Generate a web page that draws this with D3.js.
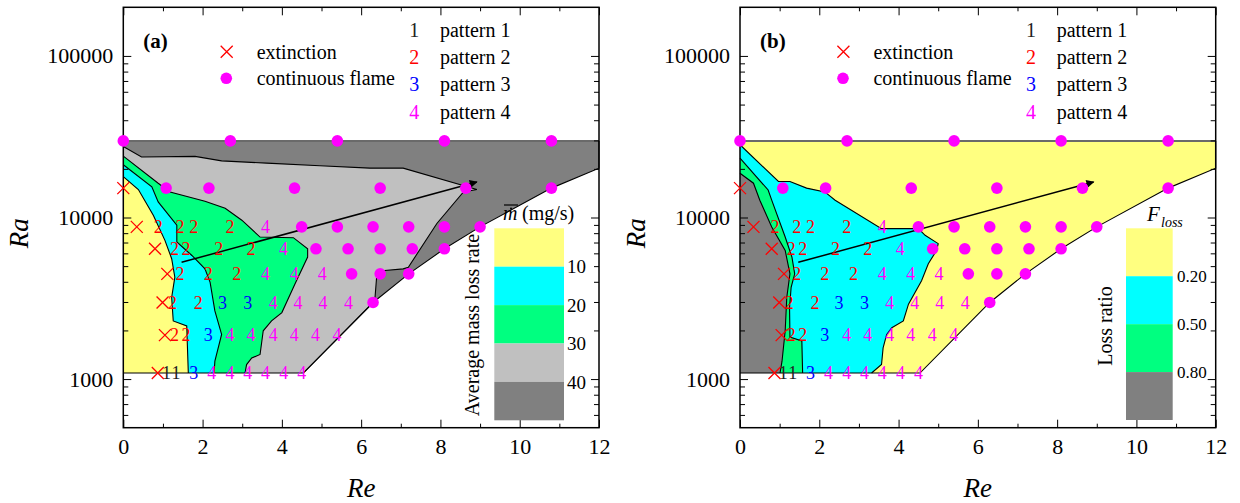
<!DOCTYPE html>
<html>
<head>
<meta charset="utf-8">
<script src="https://cdn.jsdelivr.net/npm/d3@7"></script>
<style>
  body { margin: 0; background: #fff; }
  text { font-family: "Liberation Serif", "Times New Roman", serif; }
</style>
</head>
<body>
<svg id="chart" width="1240" height="503"></svg>
<script>
// ---- data: points are [Re, Ra] ----
const extinction = [[0, 15200], [0.34, 8750], [0.80, 6400], [1.11, 4480], [0.99, 2980], [1.05, 1870], [0.87, 1090]];

const flame = [
  [0, 29800], [2.7, 29800], [5.4, 29800], [8.1, 29800], [10.8, 29800],
  [1.08, 15200], [2.16, 15200], [4.32, 15200], [6.48, 15200], [8.64, 15200], [10.8, 15200],
  [4.5, 8750], [5.4, 8750], [6.3, 8750], [7.2, 8750], [8.1, 8750], [9.0, 8750],
  [4.86, 6400], [5.67, 6400], [6.48, 6400], [7.29, 6400], [8.1, 6400],
  [5.76, 4480], [6.48, 4480], [7.2, 4480],
  [6.3, 2980]
];

// [Re, Ra, pattern]
const patterns = [
  [0.88, 8750, 2], [1.43, 8750, 2], [1.78, 8750, 2], [2.69, 8750, 2], [3.59, 8750, 4],
  [1.29, 6400, 2], [1.58, 6400, 2], [2.41, 6400, 2], [3.22, 6400, 2], [4.04, 6400, 4],
  [1.43, 4480, 2], [2.14, 4480, 2], [2.86, 4480, 2], [3.59, 4480, 4], [4.31, 4480, 4], [5.02, 4480, 4],
  [1.24, 2980, 2], [1.89, 2980, 2], [2.5, 2980, 3], [3.14, 2980, 3], [3.78, 2980, 4], [4.41, 2980, 4], [5.04, 2980, 4], [5.68, 2980, 4],
  [1.29, 1870, 2], [1.58, 1870, 2], [2.14, 1870, 3], [2.69, 1870, 4], [3.22, 1870, 4], [3.78, 1870, 4], [4.31, 1870, 4], [4.85, 1870, 4], [5.39, 1870, 4],
  [1.09, 1090, 1], [1.33, 1090, 1], [1.78, 1090, 3], [2.23, 1090, 4], [2.69, 1090, 4], [3.14, 1090, 4], [3.59, 1090, 4], [4.05, 1090, 4], [4.5, 1090, 4]
];

// outer edge of the tested range
const domainEdge = [[0, 29800], [12, 29800], [12, 20200], [10.8, 15200], [9.0, 8750], [8.1, 6400], [7.2, 4480], [6.3, 2980], [4.54, 1090], [0, 1090]];

// (a) mass loss rate contours
const mlr30 = [[0, 27500], [0.46, 23700], [1.81, 23900], [2.48, 22400], [3.62, 21700], [4.96, 20900], [6.22, 20200], [7.06, 20200], [8.92, 14900], [8.58, 14400], [7.91, 9180], [7.19, 4920], [7.06, 4810], [6.60, 4700], [6.39, 4270], [6.35, 3200], [6.31, 2980], [4.54, 1090]];
const mlr20 = [[0, 24000], [0.88, 16300], [1.18, 14400], [2.06, 12600], [2.57, 11400], [2.99, 9620], [3.45, 7570], [4.29, 7500], [4.65, 6410], [4.65, 5690], [4.33, 3880], [4.0, 2580], [3.74, 2290], [3.53, 1990], [3.45, 1420], [3.24, 1350], [3.11, 1230], [3.07, 1090]];
const mlr10 = [[0, 21200], [0.72, 15500], [0.88, 12500], [1.35, 8960], [1.35, 7050], [1.73, 5820], [2.06, 4810], [2.19, 3970], [2.31, 2640], [2.48, 1890], [2.31, 1290], [2.29, 1090]];
const mlr0 = [[0, 17900], [0.38, 14900], [0.76, 10300], [1.05, 7220], [1.22, 5560], [1.30, 4270], [1.22, 3200], [1.26, 2290], [1.60, 2130], [1.64, 1090]];

// (b) loss ratio contours
const loss20 = [[0, 28200], [0.97, 16700], [1.26, 16700], [1.68, 15200], [2.14, 14400], [2.40, 12800], [3.57, 8530], [4.50, 8530], [4.67, 7760], [5.0, 6890], [4.96, 6260], [4.75, 5170], [4.58, 4060], [4.25, 2910], [4.12, 2290], [3.83, 2080], [3.70, 1890], [3.61, 1560], [3.57, 1230], [3.32, 1090]];
const loss50 = [[0, 23300], [0.71, 14800], [0.80, 12800], [1.14, 7570], [1.31, 5690], [1.38, 4480], [1.29, 3700], [1.25, 2770], [1.26, 1820], [1.56, 1720], [1.58, 1090]];
const loss80 = [[0, 18800], [0.34, 16300], [0.50, 12800], [0.80, 8740], [1.14, 6250], [1.26, 4480], [1.18, 3200], [1.14, 1990], [1.06, 1290], [1.01, 1090]];

const arrowPath = [[1.47, 5280], [8.92, 16600]];

const xMajor = [0, 2, 4, 6, 8, 10, 12];
const xMinor = [1, 3, 5, 7, 9, 11];
const yMajor = [1000, 10000, 100000];
const yMinor = [600, 700, 800, 900, 2000, 3000, 4000, 5000, 6000, 7000, 8000, 9000,
                20000, 30000, 40000, 50000, 60000, 70000, 80000, 90000];

const patternNames = ["pattern 1", "pattern 2", "pattern 3", "pattern 4"];
const mlrBins = [0, 10, 20, 30, 40, 50];
const mlrLabels = [10, 20, 30, 40];
const lossBins = [0, 1, 2, 3, 4];
const lossLabels = ["0.20", "0.50", "0.80"];

const YELLOW = "#ffff80", CYAN = "#00ffff", GREEN = "#00ff80", LGRAY = "#c0c0c0", DGRAY = "#808080";
const digitColor = {1: "#222", 2: "#ff0000", 3: "#0000ff", 4: "#ff00ff"};

// ---- layout ----
const svg = d3.select("#chart");
const TOP = 7.3, W = 475.7, H = 420.4;

const x = d3.scaleLinear().domain([0, 12]).range([0, W]);
const y = d3.scaleLog().domain([500, 200000]).range([H, 0]);
const line = d3.line().x(d => x(d[0])).y(d => y(d[1]));

svg.append("defs").append("marker")
    .attr("id", "arrow")
    .attr("viewBox", "0 0 10 10")
    .attr("refX", 9).attr("refY", 5)
    .attr("markerUnits", "userSpaceOnUse")
    .attr("markerWidth", 12).attr("markerHeight", 8)
    .attr("orient", "auto")
  .append("path")
    .attr("d", "M0,0L10,5L0,10z")
    .attr("fill", "#000");

const panels = [
    {left: 123.3, tag: "(a)", base: DGRAY,
     regions: [
        {edge: mlr30, close: [[0, 1090]], color: LGRAY},
        {edge: mlr20, close: [[0, 1090]], color: GREEN},
        {edge: mlr10, close: [[0, 1090]], color: CYAN},
        {edge: mlr0,  close: [[0, 1090]], color: YELLOW}
     ]},
    {left: 740, tag: "(b)", base: YELLOW,
     regions: [
        {edge: loss20, close: [[0, 1090]], color: CYAN},
        {edge: loss50, close: [[0, 1090]], color: GREEN},
        {edge: loss80, close: [[0, 1090]], color: DGRAY}
     ]}
];

function styleAxis(sel, size) {
    sel.select(".domain").remove();
    sel.selectAll(".tick line").attr("stroke", "#000").attr("stroke-width", 1);
    sel.selectAll("text")
        .attr("font-family", '"Liberation Serif", "Times New Roman", serif')
        .attr("font-size", size)
        .attr("fill", "#000");
}

function drawAxes(g) {
    const fmt = d3.format("d");
    g.append("g").attr("transform", `translate(0,${H})`)
        .call(d3.axisBottom(x).tickValues(xMajor).tickSizeInner(-8).tickSizeOuter(0).tickPadding(11).tickFormat(fmt))
        .call(styleAxis, 22);
    g.append("g").attr("transform", `translate(0,${H})`)
        .call(d3.axisBottom(x).tickValues(xMinor).tickSizeInner(-4).tickSizeOuter(0).tickFormat(""))
        .call(styleAxis, 22);
    g.append("g")
        .call(d3.axisTop(x).tickValues(xMajor).tickSizeInner(-8).tickSizeOuter(0).tickFormat(""))
        .call(styleAxis, 22);
    g.append("g")
        .call(d3.axisTop(x).tickValues(xMinor).tickSizeInner(-4).tickSizeOuter(0).tickFormat(""))
        .call(styleAxis, 22);

    g.append("g")
        .call(d3.axisLeft(y).tickValues(yMajor).tickSizeInner(-8).tickSizeOuter(0).tickPadding(10).tickFormat(fmt))
        .call(styleAxis, 22);
    g.append("g")
        .call(d3.axisLeft(y).tickValues(yMinor).tickSizeInner(-5).tickSizeOuter(0).tickFormat(""))
        .call(styleAxis, 22);
    g.append("g").attr("transform", `translate(${W},0)`)
        .call(d3.axisRight(y).tickValues(yMajor).tickSizeInner(-8).tickSizeOuter(0).tickFormat(""))
        .call(styleAxis, 22);
    g.append("g").attr("transform", `translate(${W},0)`)
        .call(d3.axisRight(y).tickValues(yMinor).tickSizeInner(-5).tickSizeOuter(0).tickFormat(""))
        .call(styleAxis, 22);

    g.append("rect")
        .attr("width", W).attr("height", H)
        .attr("fill", "none").attr("stroke", "#000").attr("stroke-width", 1.5);

    g.append("text")
        .attr("transform", `translate(${-95},${y(8000)}) rotate(-90)`)
        .attr("text-anchor", "middle")
        .attr("font-style", "italic").attr("font-size", 27)
        .text("Ra");
    g.append("text")
        .attr("x", W / 2).attr("y", H + 69)
        .attr("text-anchor", "middle")
        .attr("font-style", "italic").attr("font-size", 27)
        .text("Re");
}

function drawLegend(g, tag) {
    g.append("text").attr("x", 20).attr("y", 41)
        .attr("font-weight", "bold").attr("font-size", 21).text(tag);

    g.append("path")
        .attr("transform", `translate(103.4,${51.7 - TOP})`)
        .attr("d", "M-6,-6L6,6M-6,6L6,-6")
        .attr("stroke", "#ff0000").attr("stroke-width", 1.3);
    g.append("text").attr("x", 133.4).attr("y", 51.7 - TOP).attr("dy", "0.35em")
        .attr("font-size", 20).text("extinction");
    g.append("circle").attr("cx", 103).attr("cy", 78.3 - TOP).attr("r", 5.8).attr("fill", "#ff00ff");
    g.append("text").attr("x", 133.4).attr("y", 78.3 - TOP).attr("dy", "0.35em")
        .attr("font-size", 20).text("continuous flame");

    const rows = g.selectAll(".pat").data(patternNames).enter().append("g")
        .attr("transform", (d, i) => `translate(0,${30 + i * 27.2 - TOP})`);
    rows.append("text").attr("x", 291).attr("dy", "0.35em")
        .attr("text-anchor", "middle").attr("font-size", 20)
        .attr("fill", (d, i) => digitColor[i + 1])
        .text((d, i) => i + 1);
    rows.append("text").attr("x", 316.7).attr("dy", "0.35em")
        .attr("font-size", 20).text(d => d);
}

panels.forEach(p => {
    const g = svg.append("g").attr("transform", `translate(${p.left},${TOP})`);

    g.append("path").attr("d", line(domainEdge) + "Z").attr("fill", p.base);
    p.regions.forEach(r => {
        g.append("path").attr("d", line(r.edge.concat(r.close)) + "Z").attr("fill", r.color);
        g.append("path").attr("d", line(r.edge)).attr("fill", "none")
            .attr("stroke", "#000").attr("stroke-width", 1.1);
    });
    g.append("path").attr("d", line(domainEdge.slice(0, 2)))
        .attr("stroke", "#6a6a6a").attr("stroke-width", 2);
    g.append("path").attr("d", line(domainEdge.slice(1))).attr("fill", "none")
        .attr("stroke", "#000").attr("stroke-width", 1.1);

    g.append("path").attr("d", line(arrowPath))
        .attr("stroke", "#000").attr("stroke-width", 1.5)
        .attr("marker-end", "url(#arrow)");

    drawAxes(g);

    g.selectAll(".digit").data(patterns).enter().append("text")
        .attr("x", d => x(d[0])).attr("y", d => y(d[1]))
        .attr("dy", "0.35em").attr("text-anchor", "middle")
        .attr("font-size", 18)
        .attr("fill", d => digitColor[d[2]])
        .text(d => d[2]);

    g.selectAll(".flame").data(flame).enter().append("circle")
        .attr("cx", d => x(d[0])).attr("cy", d => y(d[1]))
        .attr("r", 5.8).attr("fill", "#ff00ff");

    g.selectAll(".ext").data(extinction).enter().append("path")
        .attr("transform", d => `translate(${x(d[0])},${y(d[1])})`)
        .attr("d", "M-6,-6L6,6M-6,6L6,-6")
        .attr("stroke", "#ff0000").attr("stroke-width", 1.3);

    drawLegend(g, p.tag);
});

// ---- colour bar (a): average mass loss rate ----
const cbA = d3.scaleLinear().domain([0, 50]).range([228.3, 420.3]);
const mlrColors = [YELLOW, CYAN, GREEN, LGRAY, DGRAY];
svg.selectAll(".cbA").data(mlrColors).enter().append("rect")
    .attr("x", 494.3).attr("width", 69.7)
    .attr("y", (d, i) => cbA(mlrBins[i]))
    .attr("height", (d, i) => cbA(mlrBins[i + 1]) - cbA(mlrBins[i]))
    .attr("fill", d => d);
svg.selectAll(".cbAl").data(mlrLabels).enter().append("text")
    .attr("x", 567).attr("y", d => cbA(d)).attr("dy", "0.35em")
    .attr("font-size", 19).text(d => d);
svg.append("text").attr("x", 503).attr("y", 220)
    .attr("font-size", 20).attr("font-style", "italic").text("m");
svg.append("line").attr("x1", 504).attr("x2", 518).attr("y1", 205).attr("y2", 205)
    .attr("stroke", "#000").attr("stroke-width", 1.2);
svg.append("circle").attr("cx", 511).attr("cy", 208.5).attr("r", 1).attr("fill", "#000");
svg.append("text").attr("x", 522).attr("y", 220).attr("font-size", 20).text("(mg/s)");
svg.append("text")
    .attr("transform", "translate(479,325) rotate(-90)")
    .attr("text-anchor", "middle").attr("font-size", 20)
    .text("Average mass loss rate");

// ---- colour bar (b): loss ratio ----
const cbB = d3.scaleLinear().domain([0, 4]).range([228.3, 420]);
const lossColors = [YELLOW, CYAN, GREEN, DGRAY];
svg.selectAll(".cbB").data(lossColors).enter().append("rect")
    .attr("x", 1126).attr("width", 46.7)
    .attr("y", (d, i) => cbB(lossBins[i]))
    .attr("height", (d, i) => cbB(lossBins[i + 1]) - cbB(lossBins[i]))
    .attr("fill", d => d);
svg.selectAll(".cbBl").data(lossLabels).enter().append("text")
    .attr("x", 1177).attr("y", (d, i) => cbB(i + 1)).attr("dy", "0.35em")
    .attr("font-size", 17).text(d => d);
svg.append("text").attr("x", 1147).attr("y", 220.5)
    .attr("font-size", 21).attr("font-style", "italic").text("F");
svg.append("text").attr("x", 1161).attr("y", 226.5)
    .attr("font-size", 14).attr("font-style", "italic").text("loss");
svg.append("text")
    .attr("transform", "translate(1112,326) rotate(-90)")
    .attr("text-anchor", "middle").attr("font-size", 20)
    .text("Loss ratio");
</script>
</body>
</html>
